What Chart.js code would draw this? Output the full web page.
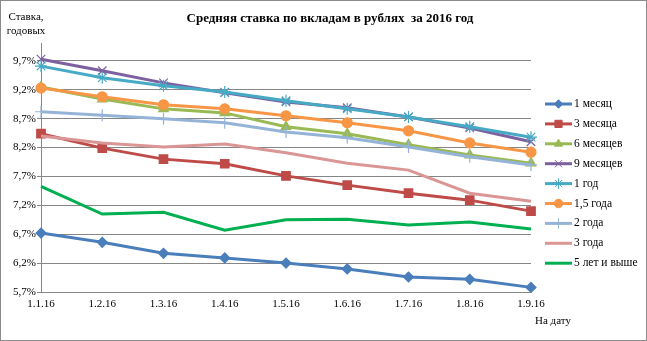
<!DOCTYPE html>
<html>
<head>
<meta charset="utf-8">
<script src="https://cdn.jsdelivr.net/npm/chart.js@4"></script>
<style>
  html, body { margin: 0; padding: 0; background: #fff; }
  #wrap { width: 647px; height: 341px; position: relative; }
</style>
</head>
<body>
<div id="wrap"><canvas id="c" width="647" height="341"></canvas></div>
<script>
// даты и значения ставок (%)
const dates = ['1.1.16', '1.2.16', '1.3.16', '1.4.16', '1.5.16', '1.6.16', '1.7.16', '1.8.16', '1.9.16'];
const yTicks = [5.7, 6.2, 6.7, 7.2, 7.7, 8.2, 8.7, 9.2, 9.7];

const m1  = [6.72, 6.56, 6.37, 6.29, 6.20, 6.10, 5.96, 5.92, 5.78];
const m3  = [8.44, 8.19, 8.00, 7.92, 7.71, 7.55, 7.41, 7.29, 7.10];
const m6  = [9.25, 9.04, 8.87, 8.80, 8.56, 8.44, 8.25, 8.07, 7.93];
const m9  = [9.73, 9.53, 9.32, 9.15, 8.99, 8.89, 8.73, 8.54, 8.30];
const y1  = [9.61, 9.41, 9.27, 9.16, 9.01, 8.87, 8.73, 8.56, 8.38];
const y15 = [9.23, 9.08, 8.94, 8.87, 8.75, 8.63, 8.49, 8.28, 8.12];
const y2  = [8.82, 8.76, 8.70, 8.63, 8.47, 8.37, 8.21, 8.04, 7.90];
const y3  = [8.40, 8.28, 8.21, 8.26, 8.11, 7.93, 7.81, 7.41, 7.27];
const y5  = [7.53, 7.05, 7.08, 6.77, 6.95, 6.96, 6.86, 6.91, 6.79];

const series = [
  { name: '1 месяц',      data: m1,  color: '#4A7EBB', style: 'rectRot',  r: 5 },
  { name: '3 месяца',     data: m3,  color: '#BE4B48', style: 'rect',     r: 6 },
  { name: '6 месяцев',    data: m6,  color: '#98B954', style: 'triangle', r: 5.5 },
  { name: '9 месяцев',    data: m9,  color: '#7D60A0', style: 'crossRot', r: 6 },
  { name: '1 год',        data: y1,  color: '#46AAC5', style: 'star',     r: 6 },
  { name: '1,5 года',     data: y15, color: '#F79646', style: 'circle',   r: 5 },
  { name: '2 года',       data: y2,  color: '#95B3D7', style: 'cross',    r: 6 },
  { name: '3 года',       data: y3,  color: '#D99694', style: false,      r: 0 },
  { name: '5 лет и выше', data: y5,  color: '#00B050', style: false,      r: 0 }
];

const serif = '"Liberation Serif", "Times New Roman", serif';

const extras = {
  id: 'extras',
  afterDraw(chart) {
    const ctx = chart.ctx;
    ctx.save();
    // рамка диаграммы
    ctx.strokeStyle = '#8c8c8c';
    ctx.lineWidth = 1;
    ctx.strokeRect(0.5, 0.5, chart.width - 1, chart.height - 1);

    ctx.fillStyle = '#000';
    ctx.textAlign = 'center';
    ctx.textBaseline = 'middle';
    ctx.font = 'bold 13px ' + serif;
    ctx.fillText('Средняя ставка по вкладам в рублях  за 2016 год', 330, 19);

    ctx.font = '11px ' + serif;
    ctx.fillText('Ставка,', 26, 17);
    ctx.fillText('годовых', 26, 31);
    ctx.fillText('На дату', 553, 321);

    // легенда
    const lx = 545, ly = 104, step = 19.9;
    series.forEach((s, i) => {
      const y = ly + i * step;
      ctx.strokeStyle = s.color;
      ctx.lineWidth = 3;
      ctx.beginPath();
      ctx.moveTo(lx, y);
      ctx.lineTo(lx + 27, y);
      ctx.stroke();
      if (s.style && Chart.helpers && Chart.helpers.drawPoint) {
        ctx.fillStyle = s.color;
        ctx.strokeStyle = s.color;
        ctx.lineWidth = 1;
        Chart.helpers.drawPoint(ctx, { pointStyle: s.style, radius: s.r * 0.85, rotation: 0, borderWidth: 1 }, lx + 13.5, y);
      }
      ctx.fillStyle = '#000';
      ctx.textAlign = 'left';
      ctx.font = '11.5px ' + serif;
      ctx.fillText(s.name, lx + 29, y);
    });
    ctx.restore();
  }
};

new Chart(document.getElementById('c'), {
  type: 'line',
  data: {
    labels: dates,
    datasets: series.map((s, i) => ({
      label: s.name,
      data: s.data,
      borderColor: s.color,
      backgroundColor: s.color,
      borderWidth: 3,
      pointStyle: s.style,
      pointRadius: s.r,
      pointBorderWidth: 1.2,
      pointBackgroundColor: s.color,
      pointBorderColor: s.color,
      tension: 0,
      order: series.length - i
    }))
  },
  options: {
    responsive: false,
    animation: false,
    layout: { padding: { left: 0, right: 116, top: 43, bottom: 19 } },
    plugins: {
      legend: { display: false },
      title: { display: false },
      tooltip: { enabled: false }
    },
    scales: {
      x: {
        offset: false,
        grid: { display: false, drawTicks: true, tickLength: 4, color: '#868686' },
        border: { color: '#868686', width: 1 },
        ticks: { color: '#000', font: { family: serif, size: 11 }, padding: 2, maxRotation: 0, autoSkip: false },
        afterFit(scale) { scale.height = 30; }
      },
      y: {
        min: 5.7,
        max: 10.01,
        afterBuildTicks(scale) { scale.ticks = yTicks.map(v => ({ value: v })); },
        grid: { color: '#868686', lineWidth: 1, tickLength: 4 },
        border: { color: '#868686', width: 1 },
        ticks: {
          color: '#000',
          font: { family: serif, size: 11 },
          padding: 1,
          callback: v => v.toFixed(1).replace('.', ',') + '%'
        },
        afterFit(scale) { scale.width = 41; }
      }
    }
  },
  plugins: [extras]
});
</script>
</body>
</html>
